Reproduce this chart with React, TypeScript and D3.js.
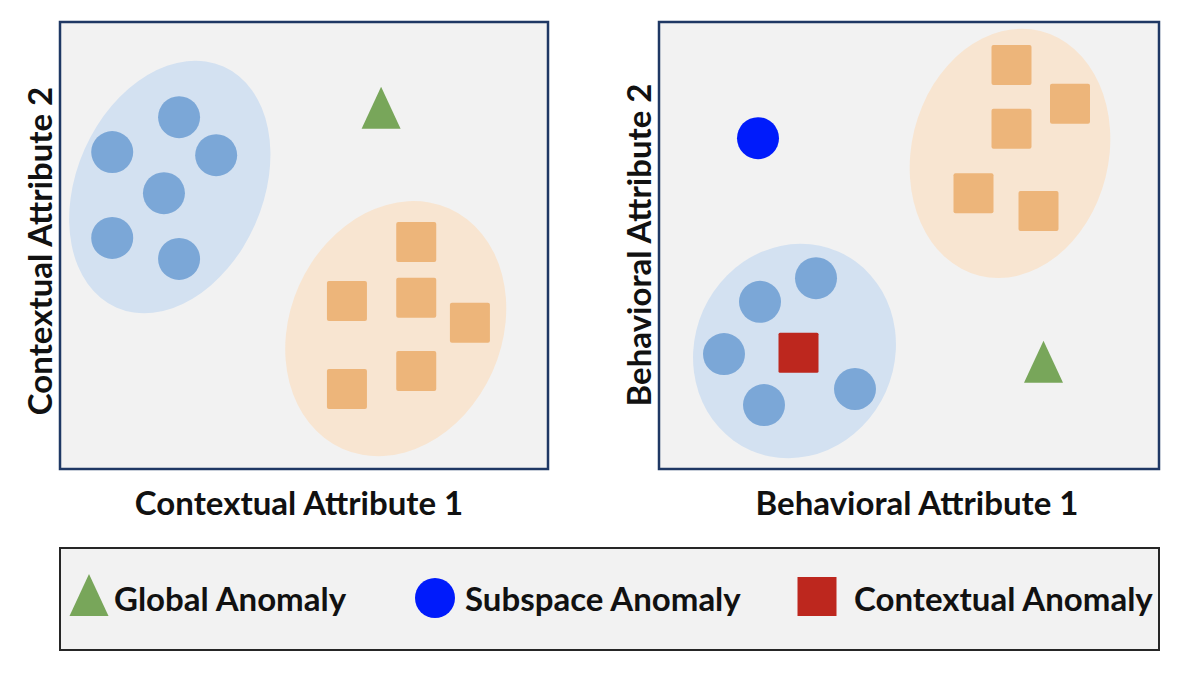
import React from 'react';
import * as d3 from 'd3';

// ---- data (panel coordinates on a 0-100 scale, y up) ----
const leftClusterCircles: [number, number][] = [
  [24.4, 78.7], [10.7, 70.9], [32.0, 70.2], [21.3, 61.7], [10.7, 51.7], [24.4, 47.0],
];
const leftClusterSquares: [number, number][] = [
  [73.0, 50.8], [58.8, 37.6], [73.0, 38.3], [84.0, 32.7], [73.0, 21.9], [58.8, 17.9],
];
const leftGlobalAnomaly: [number, number][] = [[65.8, 80.8]];

const rightClusterSquares: [number, number][] = [
  [70.5, 90.4], [82.2, 81.7], [70.5, 76.1], [62.9, 61.7], [75.9, 57.7],
];
const rightClusterCircles: [number, number][] = [
  [31.4, 42.7], [20.2, 37.4], [13.0, 25.7], [21.0, 14.3], [39.2, 17.9],
];
const rightContextualAnomaly: [number, number][] = [[27.9, 26.0]];
const rightGlobalAnomaly: [number, number][] = [[76.9, 24.0]];
const rightSubspaceAnomaly: [number, number][] = [[19.8, 74.0]];

// ellipses: [cx, cy, rx, ry, angle]
const leftEllipses: { kind: string; v: [number, number, number, number, number] }[] = [
  { kind: 'blue', v: [22.5, 63.1, 19.1, 29.5, 24] },
  { kind: 'orange', v: [68.8, 31.4, 21.7, 29.4, 24] },
];
const rightEllipses: { kind: string; v: [number, number, number, number, number] }[] = [
  { kind: 'orange', v: [70.2, 70.6, 19.7, 28.2, 14] },
  { kind: 'blue', v: [27.1, 26.4, 20.0, 24.3, 24] },
];

const legendItems = [
  { shape: 'triangle', label: 'Global Anomaly' },
  { shape: 'circle', label: 'Subspace Anomaly' },
  { shape: 'square', label: 'Contextual Anomaly' },
];

// ---- styles ----
const C = {
  panel: '#f2f2f2',
  border: '#1f3864',
  blueZone: '#d3e1f1',
  orangeZone: '#f8e5d1',
  bluePt: '#7ba7d7',
  orangePt: '#edb57a',
  green: '#78a65a',
  red: '#bd271e',
  subspace: '#001bfb',
};
const FONT = 'Lato, "Open Sans", sans-serif';
const FS = 33;
const R = 21;
const SQ = 40;
const TRI_W = 39;
const TRI_H = 42;

const triPath = (cx: number, cy: number) => {
  const p = d3.path();
  p.moveTo(cx, cy - TRI_H / 2);
  p.lineTo(cx + TRI_W / 2, cy + TRI_H / 2);
  p.lineTo(cx - TRI_W / 2, cy + TRI_H / 2);
  p.closePath();
  return p.toString();
};

type PanelProps = {
  x0: number;
  x1: number;
  y0: number;
  y1: number;
  ellipses: { kind: string; v: [number, number, number, number, number] }[];
  circles: [number, number][];
  squares: [number, number][];
  triangles: [number, number][];
  redSquares?: [number, number][];
  blueDots?: [number, number][];
  xLabel: string;
  yLabel: string;
  xLabelX: number;
  yLabelX: number;
  yLabelY: number;
};

const Panel: React.FC<PanelProps> = (p) => {
  const x = d3.scaleLinear().domain([0, 100]).range([p.x0, p.x1]);
  const y = d3.scaleLinear().domain([0, 100]).range([p.y1, p.y0]);
  const dx = (v: number) => x(v) - x(0);
  const dy = (v: number) => y(0) - y(v);
  return (
    <g>
      <rect x={p.x0} y={p.y0} width={p.x1 - p.x0} height={p.y1 - p.y0} fill={C.panel} stroke={C.border} strokeWidth={2.5} />
      {p.ellipses.map((e, i) => (
        <ellipse
          key={i}
          cx={0}
          cy={0}
          rx={dx(e.v[2])}
          ry={dy(e.v[3])}
          fill={e.kind === 'blue' ? C.blueZone : C.orangeZone}
          transform={`translate(${x(e.v[0])},${y(e.v[1])}) rotate(${e.v[4]})`}
        />
      ))}
      {p.circles.map((d, i) => (
        <circle key={'c' + i} cx={x(d[0])} cy={y(d[1])} r={R} fill={C.bluePt} />
      ))}
      {p.squares.map((d, i) => (
        <rect key={'s' + i} x={x(d[0]) - SQ / 2} y={y(d[1]) - SQ / 2} width={SQ} height={SQ} rx={2} fill={C.orangePt} />
      ))}
      {(p.redSquares || []).map((d, i) => (
        <rect key={'r' + i} x={x(d[0]) - SQ / 2} y={y(d[1]) - SQ / 2} width={SQ} height={SQ} rx={1.5} fill={C.red} />
      ))}
      {(p.blueDots || []).map((d, i) => (
        <circle key={'b' + i} cx={x(d[0])} cy={y(d[1])} r={R} fill={C.subspace} />
      ))}
      {p.triangles.map((d, i) => (
        <path key={'t' + i} d={triPath(x(d[0]), y(d[1]))} fill={C.green} />
      ))}
      <text x={p.xLabelX} y={515} textAnchor="middle" fontFamily={FONT} fontWeight={700} fontSize={FS} fill="#111">
        {p.xLabel}
      </text>
      <text
        transform={`translate(${p.yLabelX},${p.yLabelY}) rotate(-90)`}
        textAnchor="middle"
        fontFamily={FONT}
        fontWeight={700}
        fontSize={FS}
        fill="#111"
      >
        {p.yLabel}
      </text>
    </g>
  );
};

const legendLayout = { x0: 60, x1: 1159, y0: 548, y1: 650, cy: 597, markerX: [89, 435, 817], textX: [114, 465, 854] };

export default function App() {
  const L = legendLayout;
  return (
    <svg width={1200} height={682} style={{ position: 'absolute', left: 0, top: 0 }}>
      <rect width={1200} height={682} fill="#fff" />
      <Panel
        x0={60}
        x1={548}
        y0={22}
        y1={469}
        ellipses={leftEllipses}
        circles={leftClusterCircles}
        squares={leftClusterSquares}
        triangles={leftGlobalAnomaly}
        xLabel="Contextual Attribute 1"
        yLabel="Contextual Attribute 2"
        xLabelX={299}
        yLabelX={52}
        yLabelY={251}
      />
      <Panel
        x0={659}
        x1={1159}
        y0={22}
        y1={469}
        ellipses={rightEllipses}
        circles={rightClusterCircles}
        squares={rightClusterSquares}
        triangles={rightGlobalAnomaly}
        redSquares={rightContextualAnomaly}
        blueDots={rightSubspaceAnomaly}
        xLabel="Behavioral Attribute 1"
        yLabel="Behavioral Attribute 2"
        xLabelX={917}
        yLabelX={651}
        yLabelY={245}
      />
      <rect x={L.x0} y={L.y0} width={L.x1 - L.x0} height={L.y1 - L.y0} fill={C.panel} stroke="#262626" strokeWidth={2} />
      {legendItems.map((it, i) => {
        const mx = L.markerX[i];
        return (
          <g key={it.label}>
            {it.shape === 'triangle' && <path d={triPath(mx, L.cy - 2)} fill={C.green} />}
            {it.shape === 'circle' && <circle cx={mx} cy={L.cy + 1} r={20} fill={C.subspace} />}
            {it.shape === 'square' && <rect x={mx - 19.5} y={L.cy - 20} width={39} height={39} fill={C.red} />}
            <text x={L.textX[i]} y={611} fontFamily={FONT} fontWeight={700} fontSize={FS} fill="#111">
              {it.label}
            </text>
          </g>
        );
      })}
    </svg>
  );
}
